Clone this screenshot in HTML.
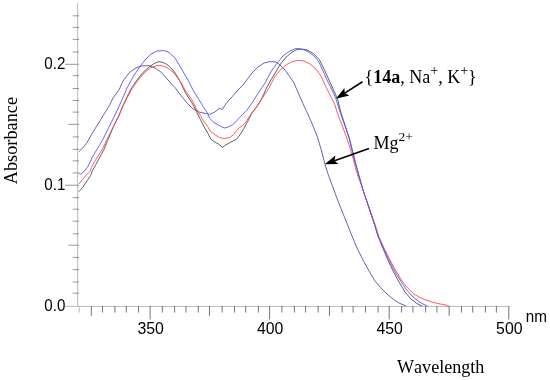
<!DOCTYPE html>
<html><head><meta charset="utf-8"><title>Absorbance spectra</title>
<style>
html,body{margin:0;padding:0;background:#fff;}
body{width:550px;height:380px;overflow:hidden;}
svg{display:block;}
.sans{font-family:"Liberation Sans",Arial,sans-serif;font-size:16px;fill:#000;}
.serif{font-family:"Liberation Serif","Times New Roman",serif;font-size:18px;fill:#000;font-kerning:none;}
</style></head><body>
<svg width="550" height="380" viewBox="0 0 550 380">
<rect width="550" height="380" fill="#fff"/>
<g stroke="#acacac" stroke-width="0.85">
<line x1="77.6" y1="3.2" x2="77.6" y2="306.4"/>
<line x1="65" y1="306.4" x2="509.3" y2="306.4"/>
</g>
<g stroke="#505050" stroke-width="0.78">
<line x1="72.7" y1="293.20" x2="79" y2="293.20" stroke="#7c7c7c"/>
<line x1="72.7" y1="282.00" x2="79" y2="282.00" stroke="#7c7c7c"/>
<line x1="72.7" y1="269.60" x2="79" y2="269.60" stroke="#7c7c7c"/>
<line x1="72.7" y1="257.40" x2="79" y2="257.40" stroke="#7c7c7c"/>
<line x1="68.4" y1="245.20" x2="79" y2="245.20" stroke="#7c7c7c"/>
<line x1="72.7" y1="233.80" x2="79" y2="233.80" stroke="#7c7c7c"/>
<line x1="72.7" y1="221.20" x2="79" y2="221.20" stroke="#7c7c7c"/>
<line x1="72.7" y1="209.20" x2="79" y2="209.20" stroke="#7c7c7c"/>
<line x1="72.7" y1="197.60" x2="79" y2="197.60" stroke="#7c7c7c"/>
<line x1="65" y1="185.20" x2="79" y2="185.20" stroke="#7c7c7c"/>
<line x1="72.7" y1="172.90" x2="79" y2="172.90" stroke="#7c7c7c"/>
<line x1="72.7" y1="160.80" x2="79" y2="160.80" stroke="#7c7c7c"/>
<line x1="72.7" y1="149.30" x2="79" y2="149.30" stroke="#7c7c7c"/>
<line x1="72.7" y1="136.90" x2="79" y2="136.90" stroke="#7c7c7c"/>
<line x1="68.4" y1="124.30" x2="79" y2="124.30" stroke="#7c7c7c"/>
<line x1="72.7" y1="112.10" x2="79" y2="112.10" stroke="#7c7c7c"/>
<line x1="72.7" y1="100.50" x2="79" y2="100.50" stroke="#7c7c7c"/>
<line x1="72.7" y1="88.50" x2="79" y2="88.50" stroke="#7c7c7c"/>
<line x1="72.7" y1="75.60" x2="79" y2="75.60" stroke="#7c7c7c"/>
<line x1="65" y1="64.30" x2="79" y2="64.30" stroke="#7c7c7c"/>
<line x1="72.7" y1="52.00" x2="79" y2="52.00" stroke="#7c7c7c"/>
<line x1="72.7" y1="39.40" x2="79" y2="39.40" stroke="#7c7c7c"/>
<line x1="72.7" y1="27.40" x2="79" y2="27.40" stroke="#7c7c7c"/>
<line x1="72.7" y1="15.80" x2="79" y2="15.80" stroke="#7c7c7c"/>
<line x1="79.20" y1="306" x2="79.20" y2="312.6" stroke="#aaa"/>
<line x1="91.35" y1="306" x2="91.35" y2="315.8"/>
<line x1="102.50" y1="306" x2="102.50" y2="312.6"/>
<line x1="114.90" y1="306" x2="114.90" y2="312.6"/>
<line x1="126.25" y1="306" x2="126.25" y2="312.6"/>
<line x1="138.50" y1="306" x2="138.50" y2="312.6"/>
<line x1="150.10" y1="306" x2="150.10" y2="319.5"/>
<line x1="162.30" y1="306" x2="162.30" y2="312.6"/>
<line x1="174.60" y1="306" x2="174.60" y2="312.6"/>
<line x1="186.00" y1="306" x2="186.00" y2="312.6"/>
<line x1="198.30" y1="306" x2="198.30" y2="312.6"/>
<line x1="209.50" y1="306" x2="209.50" y2="315.8"/>
<line x1="222.20" y1="306" x2="222.20" y2="312.6"/>
<line x1="234.50" y1="306" x2="234.50" y2="312.6"/>
<line x1="245.70" y1="306" x2="245.70" y2="312.6"/>
<line x1="258.40" y1="306" x2="258.40" y2="312.6"/>
<line x1="269.60" y1="306" x2="269.60" y2="319.5"/>
<line x1="281.90" y1="306" x2="281.90" y2="312.6"/>
<line x1="294.40" y1="306" x2="294.40" y2="312.6"/>
<line x1="305.55" y1="306" x2="305.55" y2="312.6"/>
<line x1="318.20" y1="306" x2="318.20" y2="312.6"/>
<line x1="329.50" y1="306" x2="329.50" y2="315.8"/>
<line x1="342.20" y1="306" x2="342.20" y2="312.6"/>
<line x1="353.10" y1="306" x2="353.10" y2="312.6"/>
<line x1="365.50" y1="306" x2="365.50" y2="312.6"/>
<line x1="378.05" y1="306" x2="378.05" y2="312.6"/>
<line x1="389.20" y1="306" x2="389.20" y2="319.5"/>
<line x1="401.60" y1="306" x2="401.60" y2="312.6"/>
<line x1="412.90" y1="306" x2="412.90" y2="312.6"/>
<line x1="425.60" y1="306" x2="425.60" y2="312.6"/>
<line x1="436.90" y1="306" x2="436.90" y2="312.6"/>
<line x1="449.15" y1="306" x2="449.15" y2="315.8"/>
<line x1="461.50" y1="306" x2="461.50" y2="312.6"/>
<line x1="472.70" y1="306" x2="472.70" y2="312.6"/>
<line x1="485.40" y1="306" x2="485.40" y2="312.6"/>
<line x1="496.40" y1="306" x2="496.40" y2="312.6"/>
<line x1="508.80" y1="306" x2="508.80" y2="319.5"/>
</g>
<polyline points="78.9,151.6 80.9,149.8 84.2,146.3 86.8,142.9 92.8,132.3 98.7,122.8 104.6,113.3 109.4,105.6 113.0,98.0 119.0,90.0 123.0,81.0 129.0,73.0 135.0,68.4 141.0,66.0 149.0,65.6 155.0,68.0 161.0,72.0 167.0,79.0 173.0,85.5 175.0,87.5 179.0,93.0 183.0,98.0 187.0,103.0 193.0,109.0 199.0,112.0 205.0,113.4 207.4,113.4 209.2,114.6 214.7,112.1 219.9,108.1 222.0,109.6 225.0,105.1 229.0,100.0 231.0,98.0 237.0,91.0 243.0,85.0 246.0,81.0 252.0,73.0 258.0,67.0 264.0,63.0 270.0,61.6 276.0,62.0 280.0,65.0 285.0,70.0 290.0,77.0 294.0,83.0 297.0,90.0 300.0,97.0 304.0,106.0 306.8,111.8 312.1,123.7 317.4,136.8 321.3,150.0 324.7,163.2 327.9,173.7 331.8,184.2 337.1,198.7 341.0,208.5 348.0,226.0 352.0,236.0 357.0,248.0 363.0,260.0 369.0,271.0 375.0,281.0 381.0,288.0 387.0,294.0 393.0,299.0 399.0,303.0 406.0,306.0" fill="none" stroke="#5050ac" stroke-width="0.88" stroke-linejoin="round"/>
<polyline points="78.9,191.7 82.9,187.1 86.8,181.2 90.8,175.3 92.1,171.3 96.1,164.1 100.0,156.8 103.9,149.6 107.6,140.5 112.9,128.0 118.8,116.0 120.0,113.0 125.0,101.0 131.0,89.0 137.0,80.0 143.0,72.4 149.0,67.0 155.0,63.0 159.0,61.6 163.0,62.4 167.0,64.4 173.0,70.0 177.0,76.0 181.0,83.0 185.0,92.0 192.6,103.9 196.6,111.8 200.5,119.7 204.5,127.6 208.4,134.2 211.1,139.5 215.0,142.1 219.6,144.7 222.2,147.6 224.9,145.4 229.5,142.8 236.1,139.5 240.0,134.9 243.9,128.3 247.9,121.1 251.8,113.2 255.8,107.9 259.7,102.2 262.4,97.2 266.5,88.0 271.4,79.2 276.3,71.0 281.2,63.0 286.1,57.1 291.0,53.0 296.0,49.9 300.8,49.2 306.0,49.6 312.8,53.0 319.3,59.5 324.3,69.5 329.0,80.0 334.0,91.0 337.6,99.0 340.8,112.0 345.3,126.0 349.3,138.0 352.3,150.0 355.3,162.0 359.0,176.0 363.0,190.0 369.0,208.0 375.0,226.0 378.0,236.0 382.0,246.0 387.0,258.0 393.0,271.0 399.0,282.0 405.0,292.0 411.0,299.0 417.0,303.6 422.0,306.0" fill="none" stroke="#4c4c4c" stroke-width="0.88" stroke-linejoin="round"/>
<polyline points="78.9,184.1 82.9,179.2 86.8,174.6 90.1,171.3 91.4,167.4 94.7,161.4 98.7,154.9 102.6,148.9 107.0,139.4 112.9,127.5 118.8,115.7 122.0,108.0 127.0,98.0 133.0,87.0 139.0,79.0 145.0,72.0 151.0,67.6 157.0,65.6 161.0,65.4 167.0,67.6 173.0,72.0 177.0,77.0 181.0,82.4 185.0,90.0 192.0,100.0 196.6,109.2 200.5,115.8 204.5,122.4 208.4,127.6 210.4,131.6 215.0,134.9 219.6,137.5 224.2,138.6 229.5,137.5 233.4,134.9 236.1,131.6 239.3,127.6 242.6,125.7 246.6,121.1 250.5,114.5 254.5,109.9 259.7,102.5 263.0,97.0 269.0,88.0 274.0,78.0 280.0,70.0 286.0,65.0 292.0,61.6 298.0,60.4 304.0,61.0 310.0,64.0 316.0,69.0 321.0,76.0 325.0,85.0 330.0,95.0 335.0,105.0 337.0,112.0 341.6,124.0 346.0,136.0 350.0,148.0 353.0,158.0 356.0,170.0 358.0,176.0 363.0,190.0 369.3,208.0 375.5,226.0 378.6,236.0 384.0,248.0 390.0,260.0 396.0,271.0 402.0,281.0 408.0,288.4 414.0,294.0 420.0,297.6 426.0,300.0 432.0,302.0 438.0,303.6 444.0,304.6 449.0,306.0" fill="none" stroke="#ff4848" stroke-width="0.88" stroke-linejoin="round"/>
<polyline points="78.9,173.3 80.3,174.2 84.2,171.3 88.2,166.0 90.8,160.8 92.1,157.5 96.1,150.9 99.3,145.7 102.3,140.5 108.2,128.7 114.1,116.8 121.0,102.0 127.0,88.0 133.0,77.0 139.0,68.0 145.0,60.0 151.0,54.0 157.0,51.0 164.0,50.6 169.0,52.4 175.0,58.0 181.0,68.0 185.0,75.0 188.0,80.0 193.0,90.0 199.2,100.0 203.2,106.6 207.1,112.5 209.7,118.4 213.7,122.4 218.3,125.0 222.2,127.0 224.9,128.0 228.2,127.0 232.1,125.0 236.1,121.7 239.3,117.8 242.6,114.5 246.6,110.5 250.5,105.3 253.8,100.0 259.0,92.0 265.0,83.0 267.0,79.0 272.0,70.0 278.0,62.0 284.0,55.0 290.0,51.0 296.0,48.4 302.0,49.0 308.0,51.6 314.0,56.0 319.0,62.0 323.0,71.0 328.0,82.0 333.0,92.0 336.0,99.0 340.0,112.0 345.0,126.0 349.0,138.0 352.0,150.0 355.0,162.0 359.0,176.0 363.0,190.0 369.0,208.0 375.0,226.0 378.0,236.0 383.0,247.0 388.0,258.0 394.0,270.0 400.0,280.0 406.0,289.0 412.0,296.0 418.0,301.0 423.0,304.0 427.4,306.0" fill="none" stroke="#5252ff" stroke-width="0.88" stroke-linejoin="round"/>
<g class="sans">
<text transform="translate(65.3,68.6) scale(0.99,1.03)" text-anchor="end" font-size="15.3">0.2</text>
<text transform="translate(65.3,189.6) scale(0.99,1.03)" text-anchor="end" font-size="15.3">0.1</text>
<text transform="translate(65.3,311.2) scale(0.99,1.03)" text-anchor="end" font-size="15.3">0.0</text>
<text transform="translate(150.6,334.1) scale(0.99,1.03)" text-anchor="middle">350</text>
<text transform="translate(270.2,334.1) scale(0.99,1.03)" text-anchor="middle">400</text>
<text transform="translate(389.7,334.1) scale(0.99,1.03)" text-anchor="middle">450</text>
<text transform="translate(509.3,334.1) scale(0.99,1.03)" text-anchor="middle">500</text>
<text transform="translate(525.8,321.5) scale(0.99,1.03)" font-size="15.4">nm</text>
</g>
<g class="serif">
<text transform="translate(17.2,140.6) rotate(-90)" text-anchor="middle" font-size="18.3">Absorbance</text>
<text x="397" y="373.2" font-size="18.1">Wavelength</text>
<text x="364.6" y="83.1">{<tspan font-weight="bold">14a</tspan>, Na<tspan dy="-7.8" font-size="14">+</tspan><tspan dy="7.8">, K</tspan><tspan dy="-7.8" font-size="14">+</tspan><tspan dy="7.8">}</tspan></text>
<text x="373.5" y="149.3">Mg<tspan dy="-7.9" font-size="13.5">2+</tspan></text>
</g>
<line x1="362.5" y1="81.8" x2="344.7" y2="93.1" stroke="#000" stroke-width="1.6"/><polygon points="335.9,98.8 349.3,95.6 344.7,93.1 344.4,88.0" fill="#000"/>
<line x1="369" y1="148.6" x2="334.5" y2="160.7" stroke="#000" stroke-width="1.6"/><polygon points="324.6,164.2 338.4,164.1 334.5,160.7 335.4,155.6" fill="#000"/>
</svg>
</body></html>
